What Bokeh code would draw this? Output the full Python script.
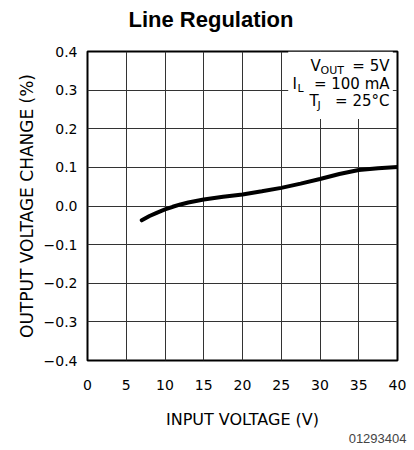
from bokeh.plotting import figure
from bokeh.models import (Label, BoxAnnotation, Title, FixedTicker, LinearAxis,
                          CustomJSTickFormatter, Range1d)
from bokeh.embed import file_html
from bokeh.resources import INLINE

# ---- data ----
input_voltage = [7, 8, 9, 10, 11, 12, 13, 15, 17.5, 20, 22.5, 25, 27.5, 30, 32.5, 35, 37.5, 40]
output_change = [-0.037, -0.026, -0.017, -0.009, -0.002, 0.004, 0.009, 0.017, 0.024, 0.030,
                 0.038, 0.047, 0.058, 0.070, 0.083, 0.093, 0.098, 0.101]
x_ticks = [0, 5, 10, 15, 20, 25, 30, 35, 40]
y_ticks = [-0.4, -0.3, -0.2, -0.1, 0.0, 0.1, 0.2, 0.3, 0.4]

title_text = "Line Regulation"
x_label = "INPUT VOLTAGE (V)"
y_label = "OUTPUT VOLTAGE CHANGE (%)"
footnote = "01293404"

TICK_FONT = "DejaVu Sans"

FL, FT, FR, FB = 87, 51, 397, 360  # frame edges on the page
W, H = 412, 448

p = figure(width=W, height=H, output_backend="svg", toolbar_location=None,
           x_range=Range1d(0, 40), y_range=Range1d(-0.4, 0.4),
           min_border_left=FL, min_border_right=W - FR, min_border_top=FT,
           min_border_bottom=H - FB)

p.outline_line_color = "black"
p.outline_line_width = 2
p.background_fill_color = "white"
p.border_fill_color = "white"

xax = p.below[0]
yax = p.left[0]

# invisible spacer axis between the frame and the title
spacer = LinearAxis(ticker=FixedTicker(ticks=[20]), axis_line_color=None,
                    major_tick_line_color=None, minor_tick_line_color=None,
                    major_tick_out=20, major_tick_in=0, minor_tick_out=0,
                    major_label_standoff=0, major_label_overrides={20: " "},
                    major_label_text_font_size="1px", major_label_text_alpha=0)
p.add_layout(spacer, "above")

p.title.text = title_text
p.title.text_font = "Liberation Sans"
p.title.text_font_style = "bold"
p.title.text_font_size = "22px"
p.title.text_color = "black"
p.title.align = "left"
p.title.offset = 41
p.title.standoff = 0

for ax in (xax, yax):
    ax.axis_line_color = None
    ax.major_tick_line_color = None
    ax.minor_tick_line_color = None
    ax.major_tick_out = 0
    ax.major_tick_in = 0
    ax.major_label_text_font = TICK_FONT
    ax.major_label_text_font_size = "14px"
    ax.major_label_text_color = "black"
    ax.axis_label_text_font = TICK_FONT
    ax.axis_label_text_font_style = "normal"
    ax.axis_label_text_color = "black"

xax.axis_label_text_font_size = "16px"
yax.axis_label_text_font_size = "17px"
xax.ticker = FixedTicker(ticks=x_ticks)
yax.ticker = FixedTicker(ticks=y_ticks)
yax.formatter = CustomJSTickFormatter(
    code="return (tick < -1e-9 ? '\u2212' : '') + Math.abs(tick).toFixed(1);")
xax.major_label_standoff = 19
yax.major_label_standoff = 10
xax.axis_label = x_label
yax.axis_label = y_label
xax.axis_label_standoff = 17
yax.axis_label_standoff = 4

p.xgrid.ticker = FixedTicker(ticks=x_ticks)
p.ygrid.ticker = FixedTicker(ticks=y_ticks)
for g in (p.xgrid[0], p.ygrid[0]):
    g.grid_line_color = "#333333"
    g.grid_line_width = 1
    g.grid_line_alpha = 1

p.line(input_voltage, output_change, line_color="black", line_width=4, line_cap="round")

# white box behind the conditions text
p.add_layout(BoxAnnotation(left=25.9, right=39.4, bottom=0.225, top=0.4,
                           fill_color="white", fill_alpha=1, line_color=None))


def px2x(px):
    return (px - FL) / (FR - FL) * 40


def px2y(py):
    return 0.4 - (py - FT) / (FB - FT) * 0.8


def lab(text, px, py, size, align):
    p.add_layout(Label(x=px2x(px), y=px2y(py), text=text, text_font=TICK_FONT,
                       text_font_size=size, text_align=align, text_baseline="middle",
                       text_color="black"))


# V_OUT = 5V
lab("V", 310, 65, "15px", "left")
lab("OUT", 320, 70, "11px", "left")
lab("= 5V", 389, 65, "15px", "right")
# I_L = 100 mA
lab("I", 292, 83, "15px", "left")
lab("L", 297, 88, "11px", "left")
lab("= 100 mA", 389, 83, "15px", "right")
# T_J = 25°C
lab("T", 309, 100, "15px", "left")
lab("J", 317, 105, "11px", "left")
lab("= 25°C", 389, 100, "15px", "right")

p.add_layout(Title(text=footnote, align="right", text_font="Liberation Sans",
                   text_font_size="13px", text_font_style="normal", offset=-9,
                   standoff=0), "below")

open("out.html", "w").write(file_html(p, INLINE))
